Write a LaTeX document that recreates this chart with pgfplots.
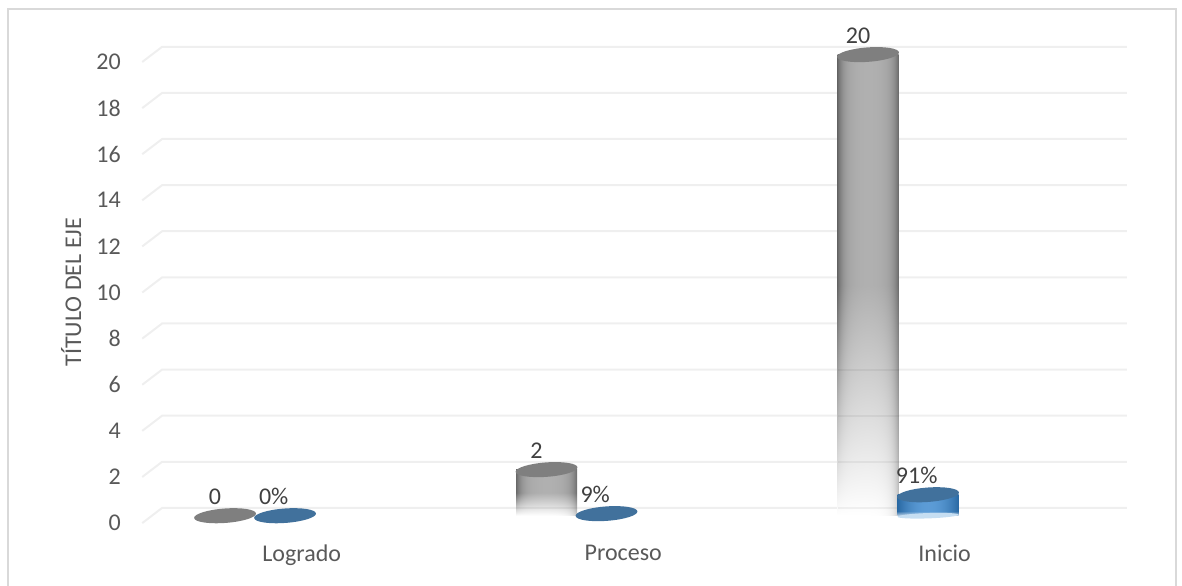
\documentclass[border=0pt]{standalone}
\usepackage{pgfplots}
\pgfplotsset{compat=1.18}
\usepackage{fontspec}
\setmainfont{Carlito}
\definecolor{gridc}{HTML}{EFEFEF}
\definecolor{framec}{HTML}{D9D9D9}
\definecolor{axtext}{HTML}{595959}
\definecolor{lbltext}{HTML}{404040}
\definecolor{topgray}{HTML}{7F7F7F}
\definecolor{topblue}{HTML}{41719C}
\definecolor{capblue}{HTML}{C6DEF2}
\pgfdeclarefunctionalshading{cylgray}{\pgfpointorigin}{\pgfpoint{100bp}{100bp}}{}{
 25 sub 50 div dup 0 lt {pop 0}{} ifelse dup 0.5 gt {pop 1}{0.5 div} ifelse
 exch 25 sub 50 div
 dup 2 mul 1 sub dup mul
 dup dup dup mul mul 0.2 mul exch 0.08 mul add 0.69 exch sub
 3 1 roll dup mul dup mul dup mul 0.4 mul
 1 index 1 exch sub mul add
 exch 1 exch sub mul 1 exch sub dup dup
}
\pgfdeclarefunctionalshading{cylblue}{\pgfpointorigin}{\pgfpoint{100bp}{100bp}}{}{
 25 sub 50 div 3.2 mul 0.3 add dup 1 gt {pop 1}{} ifelse
 exch 25 sub 50 div 2 mul 1 sub dup mul
 2 copy 0.2 mul 0.36 exch sub 1 exch sub mul 1 exch sub 3 1 roll
 2 copy 0.2 mul 0.61 exch sub 1 exch sub mul 1 exch sub 3 1 roll
 0.2 mul 0.84 exch sub 1 exch sub mul 1 exch sub
}
\pgfdeclareplotmark{ellgray}{\pgfpathellipse{\pgfqpoint{-22.5pt}{0pt}}{\pgfqpoint{23.2pt}{1.7pt}}{\pgfqpoint{-0.4pt}{5.4pt}}\pgfusepathqfill}
\pgfdeclareplotmark{ellblue}{\pgfpathellipse{\pgfqpoint{22.5pt}{0pt}}{\pgfqpoint{23.2pt}{1.7pt}}{\pgfqpoint{-0.4pt}{5.4pt}}\pgfusepathqfill}
\pgfdeclareplotmark{capblue}{\pgfpathellipse{\pgfqpoint{22.5pt}{0pt}}{\pgfqpoint{22.9pt}{0.8pt}}{\pgfqpoint{-0.1pt}{2.0pt}}\pgfusepathqfill}
\begin{document}
\begin{tikzpicture}
\begin{axis}[
  scale only axis, width=886.5pt, height=438.75pt,
  xmin=-0.793, xmax=2.883, ymin=-3.005, ymax=22.363,
  axis line style={draw=none},
  major tick length=0pt,
  xtick={0,1,2}, xticklabels={Logrado,Proceso,Inicio},
  ytick={0,2,4,6,8,10,12,14,16,18,20},
  /pgf/number format/assume math mode=true,
  tick label style={font=\fontsize{18}{20}\selectfont, text=axtext, inner sep=0pt},
  xticklabel style={anchor=north, xshift=35pt, yshift=30pt},
  yticklabel style={anchor=east, xshift=90.7pt, yshift=-5.5pt},
  ylabel={TÍTULO DEL EJE},
  every axis y label/.style={at={(axis cs:-0.572,9.70)}, rotate=90, anchor=center,
     font=\fontsize{18}{20}\selectfont, text=axtext},
]
% chart frame
\addplot[framec, line width=1.5pt] coordinates {(-0.768,-3.1)(-0.768,21.97)(2.865,21.97)(2.865,-3.1)};
% gridlines with their perspective stub
\addplot[gridc, line width=1.5pt] coordinates {
(-0.351,-0.32)(-0.289,0.34)(2.712,0.34)

(-0.351,1.68)(-0.289,2.34)(2.712,2.34)

(-0.351,3.68)(-0.289,4.34)(2.712,4.34)

(-0.351,5.68)(-0.289,6.34)(2.712,6.34)

(-0.351,7.68)(-0.289,8.34)(2.712,8.34)

(-0.351,9.68)(-0.289,10.34)(2.712,10.34)

(-0.351,11.68)(-0.289,12.34)(2.712,12.34)

(-0.351,13.68)(-0.289,14.34)(2.712,14.34)

(-0.351,15.68)(-0.289,16.34)(2.712,16.34)

(-0.351,17.68)(-0.289,18.34)(2.712,18.34)

(-0.351,19.68)(-0.289,20.34)(2.712,20.34)
};
% gray series: one plot per bar, so that each bar has its own shading
\addplot[ybar, bar width=45.75pt, bar shift=-22.5pt, draw=none, shade, shading=cylgray]
  coordinates {(1,2)};
\addplot[ybar, bar width=45.75pt, bar shift=-22.5pt, draw=none, shade, shading=cylgray]
  coordinates {(2,20)};
% gridlines showing through the faded part of the gray bars
\addplot[black, opacity=0.05, line width=1.5pt] coordinates {
(0.812,0.34)(1.0,0.34)

(1.813,0.34)(2.003,0.34)

(1.813,2.34)(2.003,2.34)

(1.813,4.34)(2.003,4.34)

(1.813,6.34)(2.003,6.34)
};
\addplot[only marks, mark=ellgray, mark options={fill=topgray, draw=none},
  point meta=explicit symbolic, nodes near coords,
  every node near coord/.style={anchor=center, xshift=-30pt, yshift=14.25pt,
    font=\fontsize{18}{20}\selectfont, text=lbltext, inner sep=0pt}]
  coordinates {(0,0)[0] (1,2)[2] (2,20)[20]};
% blue series
\addplot[only marks, mark=capblue, mark options={fill=capblue, draw=none}] coordinates {(2,0)};
\addplot[ybar, bar width=45.75pt, bar shift=22.5pt, draw=none, shade, shading=cylblue]
  coordinates {(2,0.91)};
\addplot[only marks, mark=ellblue, mark options={fill=topblue, draw=none},
  point meta=explicit symbolic, nodes near coords,
  every node near coord/.style={anchor=center, xshift=14pt, yshift=14.25pt,
    font=\fontsize{18}{20}\selectfont, text=lbltext, inner sep=0pt}]
  coordinates {(0,0)[0\%] (1,0.09)[9\%] (2,0.91)[91\%]};
\end{axis}
\end{tikzpicture}
\end{document}
